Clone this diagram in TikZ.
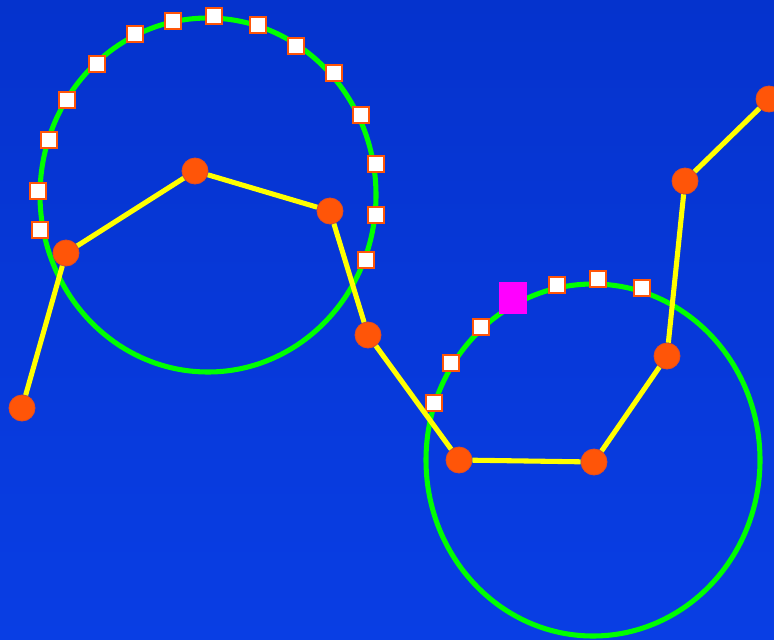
\documentclass[tikz,border=0pt]{standalone}
\usepackage{tikz}
\definecolor{bgtop}{RGB}{5,51,205}
\definecolor{bgbot}{RGB}{9,62,228}
\definecolor{dotfill}{RGB}{255,85,8}
\definecolor{dotline}{RGB}{232,78,30}
\definecolor{ringgreen}{RGB}{0,255,0}
\definecolor{linkyellow}{RGB}{255,255,0}
\definecolor{markpink}{RGB}{255,0,255}
\begin{document}
\begin{tikzpicture}[x=0.75pt,y=-0.75pt,
    dot/.style={circle,fill=dotfill,draw=dotline,line width=0.6pt,inner sep=0pt,minimum size=19.5pt},
    handle/.style={rectangle,fill=white,draw=dotfill,line width=1.6pt,inner sep=0pt,minimum size=11.5pt},
    arc/.style={draw=ringgreen,line width=3.8pt},
    link/.style={draw=linkyellow,line width=3.8pt}]
  \useasboundingbox (0,0) rectangle (774,639);
  \clip (0,0) rectangle (774,639);
  \shade[top color=bgtop,bottom color=bgbot] (0,0) rectangle (774,639);

  % the two rings
  \draw[arc] (208,195) ellipse [x radius=168,y radius=177];
  \draw[arc] (593,460) ellipse [x radius=167,y radius=176];

  % handles on the first ring
  \node[handle] (h1) at (40,230) {};
  \node[handle] (h2) at (38,191) {};
  \node[handle] (h3) at (49,140) {};
  \node[handle] (h4) at (67,100) {};
  \node[handle] (h5) at (97,64) {};
  \node[handle] (h6) at (135,34) {};
  \node[handle] (h7) at (173,21) {};
  \node[handle] (h8) at (214,16) {};
  \node[handle] (h9) at (258,25) {};
  \node[handle] (h10) at (296,46) {};
  \node[handle] (h11) at (334,73) {};
  \node[handle] (h12) at (361,115) {};
  \node[handle] (h13) at (376,164) {};
  \node[handle] (h14) at (376,215) {};
  \node[handle] (h15) at (366,260) {};

  % handles on the second ring
  \node[handle] (k1) at (434,403) {};
  \node[handle] (k2) at (451,363) {};
  \node[handle] (k3) at (481,327) {};
  \node[handle] (k4) at (557,285) {};
  \node[handle] (k5) at (598,279) {};
  \node[handle] (k6) at (642,288) {};
  \node[rectangle,fill=markpink,inner sep=0pt,minimum width=21.5pt,minimum height=24.5pt] (mark) at (513,298) {};

  % joints
  \node[dot] (p1) at (22,408) {};
  \node[dot] (p2) at (66,253) {};
  \node[dot] (p3) at (195,171) {};
  \node[dot] (p4) at (330,211) {};
  \node[dot] (p5) at (368,335) {};
  \node[dot] (p6) at (459,460) {};
  \node[dot] (p7) at (594,462) {};
  \node[dot] (p8) at (667,356) {};
  \node[dot] (p9) at (685,181) {};
  \node[dot] (p10) at (769,99) {};

  \draw[link] (p1) -- (p2);
  \draw[link] (p2) -- (p3);
  \draw[link] (p3) -- (p4);
  \draw[link] (p4) -- (p5);
  \draw[link] (p5) -- (p6);
  \draw[link] (p6) -- (p7);
  \draw[link] (p7) -- (p8);
  \draw[link] (p8) -- (p9);
  \draw[link] (p9) -- (p10);
\end{tikzpicture}
\end{document}
